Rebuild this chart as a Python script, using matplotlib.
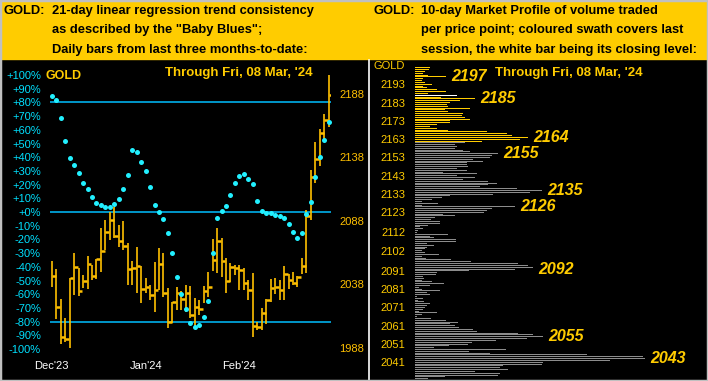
import numpy as np
import matplotlib.pyplot as plt
from matplotlib.lines import Line2D
from matplotlib.patches import Rectangle

plt.rcParams['font.family'] = ['Liberation Sans', 'DejaVu Sans']

# ---- left panel: daily bars (price) and the "Baby Blues" (%) ----
highs = [2056.5, 2050.2, 2026.3, 2011.4, 2042.9, 2063.0, 2050.8, 2045.5, 2060.4, 2053.4,
         2058.0, 2082.2, 2088.8, 2094.9, 2098.8, 2084.8, 2088.2, 2070.4, 2056.5, 2067.8,
         2052.6, 2042.9, 2037.6, 2056.0, 2066.5, 2062.6, 2035.0, 2024.5, 2036.3, 2033.1,
         2037.6, 2036.8, 2027.2, 2025.8, 2036.8, 2048.1, 2073.5, 2082.2, 2074.4, 2058.6,
         2054.7, 2053.4, 2053.4, 2050.8, 2041.5, 2046.8, 2008.7, 2019.3, 2026.3, 2042.1,
         2042.9, 2041.5, 2052.6, 2046.3, 2048.1, 2044.7, 2058.6, 2096.7, 2128.2, 2150.4,
         2160.2, 2172.3, 2203.0]
lows = [2036.0, 2010.8, 1991.1, 1993.0, 1987.8, 2029.7, 2028.9, 2035.0, 2034.2, 2041.5,
        2042.1, 2048.0, 2065.2, 2073.0, 2074.4, 2067.8, 2065.2, 2037.6, 2037.6, 2031.1,
        2023.2, 2031.1, 2025.8, 2016.6, 2033.7, 2028.4, 2004.0, 2007.4, 2018.0, 2018.0,
        2016.6, 2011.4, 2004.0, 2014.0, 2023.2, 2028.4, 2048.9, 2046.9, 2044.2, 2031.1,
        2040.2, 2045.5, 2033.7, 2033.7, 2025.8, 1996.9, 2002.2, 2002.2, 2006.9, 2024.5,
        2030.5, 2025.8, 2025.8, 2034.2, 2037.6, 2035.8, 2046.3, 2046.9, 2088.8, 2118.2,
        2131.3, 2151.8, 2161.8]
closes = [2044.7, 2020.3, 1997.0, 1994.9, 2042.9, 2051.6, 2033.1, 2041.0, 2053.9, 2044.7,
          2057.8, 2064.6, 2079.1, 2088.8, 2076.2, 2072.3, 2068.3, 2050.0, 2050.8, 2052.6,
          2034.2, 2035.8, 2029.7, 2033.7, 2054.1, 2031.1, 2008.8, 2024.5, 2031.5, 2026.3,
          2031.1, 2014.0, 2020.6, 2018.5, 2032.9, 2036.3, 2057.3, 2072.5, 2056.5, 2041.0,
          2052.0, 2050.8, 2049.4, 2039.0, 2033.7, 2005.3, 2004.8, 2015.9, 2025.8, 2035.0,
          2036.3, 2033.7, 2046.3, 2041.5, 2039.5, 2043.7, 2052.6, 2092.0, 2122.9, 2136.6,
          2157.1, 2167.5, 2187.0]
blues = [84.9, 82.0, 68.8, 52.0, 39.6, 34.5, 28.7, 21.4, 17.0, 11.2,
         6.8, 5.3, 3.9, 3.9, 6.1, 9.7, 17.0, 27.2, 45.5, 44.0,
         36.7, 30.1, 18.5, 5.3, 0.2, -5.0, -15.1, -30.2, -47.2, -59.6,
         -70.6, -80.8, -83.7, -82.2, -76.4, -64.7, -30.2, -4.1, 0.9, 4.6,
         12.6, 21.4, 26.5, 28.0, 24.3, 20.7, 8.2, 0.9, -0.5, -0.5,
         -2.0, -2.7, -4.1, -8.4, -14.4, -18.8, -15.6, -1.1, 7.5, 25.8,
         40.4, 52.7, 65.4]

month_pos = [0, 21, 42]
month_labels = ["Dec'23", "Jan'24", "Feb'24"]
pct_ticks = list(range(100, -101, -10))
pct_lines = [80, 0, -80]
price_ticks = [1988, 2038, 2088, 2138, 2188]

# ---- right panel: 10-day market profile ----
profile_top = 2202
profile_vol = [15, 14, 10, 8, 13, 31, 8, 7, 10, 17,
               8, 12, 22, 31, 13, 42, 26, 60, 45, 35,
               32, 33, 55, 30, 33, 48, 47, 50, 55, 35,
               35, 22, 15, 22, 33, 72, 92, 97, 113, 105,
               67, 50, 40, 42, 40, 48, 55, 83, 77, 75,
               58, 68, 52, 52, 53, 42, 52, 28, 62, 42,
               60, 48, 73, 82, 73, 65, 102, 127, 115, 78,
               35, 27, 17, 7, 23, 7, 100, 77, 72, 69,
               28, 40, 20, 16, 25, 25, 13, 5, 8, 3,
               2, 33, 15, 19, 41, 41, 12, 19, 12, 10,
               7, 10, 24, 7, 11, 36, 56, 103, 113, 118,
               100, 54, 22, 21, 8, 9, 7, 17, 29, 15,
               4, 7, 25, 12, 15, 2, 8, 3, 9, 15,
               12, 10, 8, 4, 22, 7, 2, 16, 31, 43,
               35, 40, 44, 58, 62, 103, 118, 128, 112, 81,
               57, 53, 34, 19, 91, 54, 75, 172, 228, 230,
               195, 128, 127, 88, 85, 93, 60, 85, 83, 30,
               13]
profile_ticks = [2193, 2183, 2173, 2163, 2153, 2143, 2133, 2123,
                 2112, 2102, 2091, 2081, 2071, 2061, 2051, 2041]
peak_labels = [2197, 2185, 2164, 2155, 2135, 2126, 2092, 2055, 2043]

GOLD = '#FFCC00'
BAR = '#FFC000'
W, H = 708, 381


def px(x, y):
    return x / W, 1 - y / H


fig = plt.figure(figsize=(W / 100, H / 100), dpi=100, facecolor='black')
fig.patches.append(Rectangle((0, 1 - 59 / H), 1, 59 / H, transform=fig.transFigure,
                             color=GOLD, zorder=0))
fig.patches.append(Rectangle((0, 0), 1, 1, transform=fig.transFigure, fill=False,
                             edgecolor='#c0c0c0', lw=2.5, zorder=5))

# header texts
hdr = dict(fontsize=9.3, fontweight='bold', color='black', va='center')
left_hdr = ["21-day linear regression trend consistency",
            "as described by the \"Baby Blues\";",
            "Daily bars from last three months-to-date:"]
right_hdr = ["10-day Market Profile of volume traded",
             "per price point; coloured swath covers last",
             "session, the white bar being its closing level:"]
for k, yy in enumerate([11, 30.5, 50]):
    fig.text(*px(51.7, yy), left_hdr[k], **hdr)
    fig.text(*px(421, yy), right_hdr[k], **hdr)
fig.text(*px(4, 11), "GOLD:", **hdr)
fig.text(*px(374, 11), "GOLD:", **hdr)

# left chart
ax = fig.add_axes([50 / W, (H - 356) / H, 281 / W, 296 / H])
ax.set_facecolor('black')
for v in pct_lines:
    ax.axhline(v, color='#00BFFF', lw=1.1, zorder=1)
ax.set_yticks(pct_ticks)
ax.set_yticklabels([("+%d%%" % t) if t >= 0 else ("%d%%" % t) for t in pct_ticks])
ax.tick_params(axis='y', length=0, pad=6.5, colors='#00E0FF', labelsize=8)
ax.set_xticks(month_pos)
ax.set_xticklabels(month_labels)
ax.tick_params(axis='x', length=0, pad=3.5, colors='white', labelsize=8)
for s in ax.spines.values():
    s.set_visible(False)

ax2 = ax.twinx()
x = np.arange(len(closes))
ax2.vlines(x, lows, highs, color=BAR, lw=1.2)
ax2.hlines(closes, x, x + 0.85, color=BAR, lw=1.8)
ax2.plot(x, blues, 'o', ms=3.6, color='#22F0FF', mec='none', transform=ax.transData, zorder=4)
ax2.set_yticks(price_ticks)
ax2.tick_params(axis='y', length=0, pad=6, colors=BAR, labelsize=8)
for s in ax2.spines.values():
    s.set_visible(False)
ax.set_xlim(-0.4, 62.5)
ax.set_ylim(-105.1, 110.95)
ax2.set_ylim(1981.7, 2214.77)

fig.text(*px(45, 75.7), "GOLD", fontsize=9, fontweight='bold', color=GOLD, va='center')
fig.text(*px(165, 73.3), "Through Fri, 08 Mar, '24", fontsize=9.5, fontweight='bold',
         color=GOLD, va='center')

# right chart: market profile
axr = fig.add_axes([415 / W, 0, 293 / W, 321 / H])
axr.set_facecolor('black')
levels = profile_top - np.arange(len(profile_vol))
close_row = int(np.argmin(np.abs(levels - closes[-1])))
colors = []
for r, lv in enumerate(levels):
    if r == close_row:
        colors.append('white')
    elif lows[-1] <= lv <= highs[-1]:
        colors.append(GOLD)
    else:
        colors.append('#8c8c8c')
axr.barh(levels, profile_vol, height=0.55, color=colors)
axr.set_xlim(0, 293)
axr.set_ylim(2030.78, 2206.29)
axr.set_xticks([])
axr.set_yticks(profile_ticks)
axr.tick_params(axis='y', length=0, pad=7, colors=GOLD, labelsize=8)
for s in axr.spines.values():
    s.set_visible(False)
for p in peak_labels:
    r = int(np.argmin(np.abs(levels - p)))
    xv = max(profile_vol[max(r - 1, 0):r + 2])
    axr.annotate(str(p), (xv, p), xytext=(3.6, 0), textcoords='offset points',
                 fontsize=11.5, fontweight='bold', fontstyle='italic', color=GOLD,
                 va='center', ha='left')
fig.text(*px(405, 66), "GOLD", fontsize=8, color=GOLD, va='center', ha='right')
fig.text(*px(495, 73.3), "Through Fri, 08 Mar, '24", fontsize=9.5, fontweight='bold',
         color=GOLD, va='center')

fig.add_artist(Line2D([369 / W, 369 / W], [0, 321 / H], color='white', lw=1.2))

fig.savefig('out.png', dpi=100, facecolor='black')
